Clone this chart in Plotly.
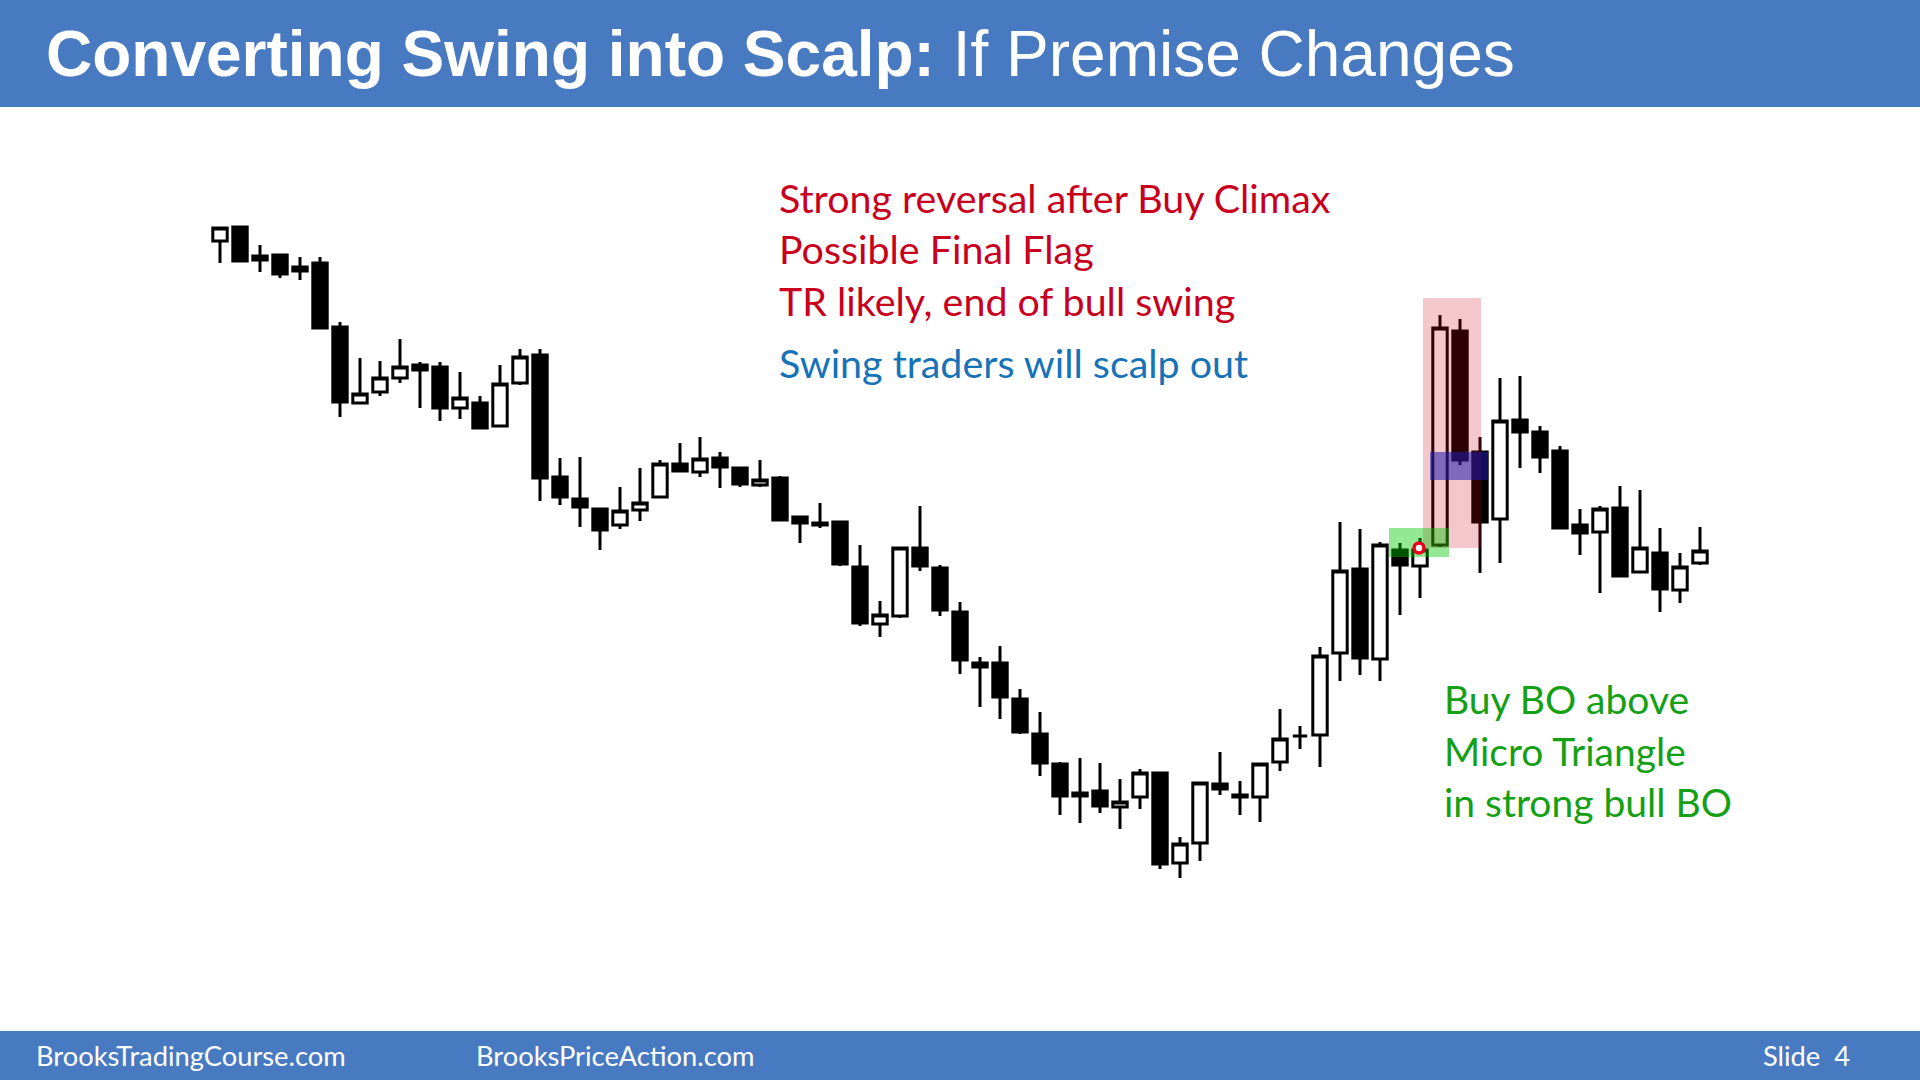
import plotly.graph_objects as go

# ---------------- data (price units) ----------------
bar_index = list(range(75))
opens = [759, 773, 740, 745, 729, 737, 673, 597, 608, 622,
         635, 633, 592, 597, 574, 617, 645, 523, 501, 491,
         475, 490, 503, 536, 528, 542, 532, 515, 522, 483,
         477, 478, 433, 376, 384, 452, 432, 388, 337, 337,
         301, 266, 236, 207, 209, 193, 203, 227, 137, 157,
         216, 205, 203, 238, 264, 265, 347, 431, 341, 450,
         434, 455, 669, 548, 481, 580, 568, 549, 475, 468,
         492, 428, 447, 410, 437]
highs = [773, 774, 755, 746, 743, 743, 678, 642, 639, 661,
         638, 638, 628, 604, 635, 651, 651, 542, 543, 492,
         513, 532, 540, 557, 563, 548, 533, 540, 524, 484,
         497, 479, 455, 399, 453, 494, 435, 398, 343, 354,
         311, 288, 238, 242, 237, 221, 231, 227, 163, 218,
         248, 219, 237, 291, 274, 353, 478, 471, 458, 457,
         462, 685, 681, 563, 622, 624, 574, 554, 491, 494,
         514, 510, 472, 447, 473]
lows = [737, 738, 728, 722, 720, 671, 583, 596, 604, 617,
        592, 579, 581, 572, 573, 615, 499, 495, 473, 450,
        471, 479, 502, 528, 523, 512, 513, 513, 479, 457,
        472, 434, 374, 363, 382, 429, 384, 326, 293, 281,
        266, 224, 185, 177, 187, 171, 191, 131, 122, 139,
        205, 185, 178, 229, 251, 233, 319, 325, 319, 385,
        402, 453, 535, 427, 437, 532, 527, 472, 445, 407,
        424, 428, 388, 397, 435]
closes = [772, 739, 744, 726, 733, 672, 598, 606, 622, 633,
          630, 592, 602, 572, 616, 643, 522, 503, 493, 470,
          489, 497, 536, 529, 541, 533, 516, 520, 480, 477,
          475, 436, 377, 385, 452, 434, 390, 340, 333, 303,
          268, 237, 204, 204, 194, 198, 227, 136, 156, 217,
          211, 203, 236, 261, 264, 344, 429, 342, 455, 435,
          450, 672, 540, 478, 579, 568, 543, 472, 467, 491,
          424, 452, 411, 433, 449]

title_bold = "Converting Swing into Scalp:"
title_regular = " If Premise Changes"
red_notes = ["Strong reversal after Buy Climax", "Possible Final Flag",
             "TR likely, end of bull swing"]
blue_note = "Swing traders will scalp out"
green_notes = ["Buy BO above", "Micro Triangle", "in strong bull BO"]
footer_left = "BrooksTradingCourse.com"
footer_mid = "BrooksPriceAction.com"
footer_right = "Slide  4"

# highlight zones: (first bar, last bar, low price, high price)
pink_zone = (61, 62, 452, 702)
blue_zone = (61, 63, 520, 548)
green_zone = (59, 61, 443, 472)
entry_bar, entry_price = 60, 452

# ---------------- layout geometry ----------------
W, H = 1920, 1080
ML, MR, MT, MB = 200, 200, 200, 180
PW, PH = W - ML - MR, H - MT - MB
BLUE = "#487AC2"


def px_x(p):
    return (p - ML) / PW


def px_y(p):
    return (H - MB - p) / PH


fig = go.Figure()
fig.add_trace(go.Candlestick(
    x=bar_index, open=opens, high=highs, low=lows, close=closes,
    increasing=dict(line=dict(color="black", width=3), fillcolor="white"),
    decreasing=dict(line=dict(color="black", width=3), fillcolor="black"),
    whiskerwidth=0, hoverinfo="skip", showlegend=False,
))

shapes = []
# header / footer bands
shapes.append(dict(type="rect", xref="paper", yref="paper",
                   x0=px_x(0), x1=px_x(W), y0=px_y(107), y1=px_y(0),
                   fillcolor=BLUE, line=dict(width=0), layer="below"))
shapes.append(dict(type="rect", xref="paper", yref="paper",
                   x0=px_x(0), x1=px_x(W), y0=px_y(H), y1=px_y(1031),
                   fillcolor=BLUE, line=dict(width=0), layer="below"))


def zone(z, color, pad_l, pad_r):
    return dict(type="rect", xref="x", yref="y",
                x0=z[0] - pad_l, x1=z[1] + pad_r, y0=z[2], y1=z[3],
                fillcolor=color, line=dict(width=0), layer="above")


shapes.append(zone(pink_zone, "rgba(205,0,25,0.22)", 0.85, 1.05))
shapes.append(zone(blue_zone, "rgba(30,30,175,0.55)", 0.5, 0.4))
shapes.append(zone(green_zone, "rgba(0,200,0,0.42)", 0.55, 0.45))
shapes.append(dict(type="circle", xref="x", yref="y",
                   xsizemode="pixel", ysizemode="pixel",
                   xanchor=entry_bar - 0.05, yanchor=entry_price,
                   x0=-5, x1=5, y0=-5, y1=5,
                   fillcolor="white", line=dict(color="#E8001C", width=3.5),
                   layer="above"))

annotations = []
annotations.append(dict(xref="paper", yref="paper", x=px_x(44), y=px_y(54),
                        xanchor="left", yanchor="middle", showarrow=False,
                        text="<b>" + title_bold + "</b>" + title_regular,
                        font=dict(family="Liberation Sans, Arial", size=64, color="white")))
note_font = "Lato, Noto Sans"
for txt, yp in zip(red_notes, [198, 249, 300]):
    annotations.append(dict(xref="paper", yref="paper", x=px_x(777), y=px_y(yp),
                            xanchor="left", yanchor="middle", showarrow=False, text=txt,
                            font=dict(family=note_font, size=39.4, color="#C8001E")))
annotations.append(dict(xref="paper", yref="paper", x=px_x(777), y=px_y(362),
                        xanchor="left", yanchor="middle", showarrow=False, text=blue_note,
                        font=dict(family=note_font, size=39.4, color="#1673B8")))
for txt, yp in zip(green_notes, [699, 751, 802]):
    annotations.append(dict(xref="paper", yref="paper", x=px_x(1442), y=px_y(yp),
                            xanchor="left", yanchor="middle", showarrow=False, text=txt,
                            font=dict(family=note_font, size=39, color="#14A014")))
for txt, xp, anchor in [(footer_left, 34, "left"), (footer_mid, 474, "left"),
                        (footer_right, 1852, "right")]:
    annotations.append(dict(xref="paper", yref="paper", x=px_x(xp), y=px_y(1055),
                            xanchor=anchor, yanchor="middle", showarrow=False, text=txt,
                            font=dict(family=note_font, size=27.3, color="white")))

fig.update_layout(
    width=W, height=H,
    margin=dict(l=ML, r=MR, t=MT, b=MB, pad=0),
    paper_bgcolor="white", plot_bgcolor="white",
    boxgap=0.28, boxgroupgap=0,
    shapes=shapes, annotations=annotations,
    showlegend=False,
    xaxis=dict(range=[-1, 75], visible=False, rangeslider=dict(visible=False),
               fixedrange=True),
    yaxis=dict(range=[100, 800], visible=False, fixedrange=True),
)

fig.write_html("out.html", config={"displayModeBar": False},
               post_script="document.body.style.margin='0px';"
                           "document.body.style.overflow='hidden';")
